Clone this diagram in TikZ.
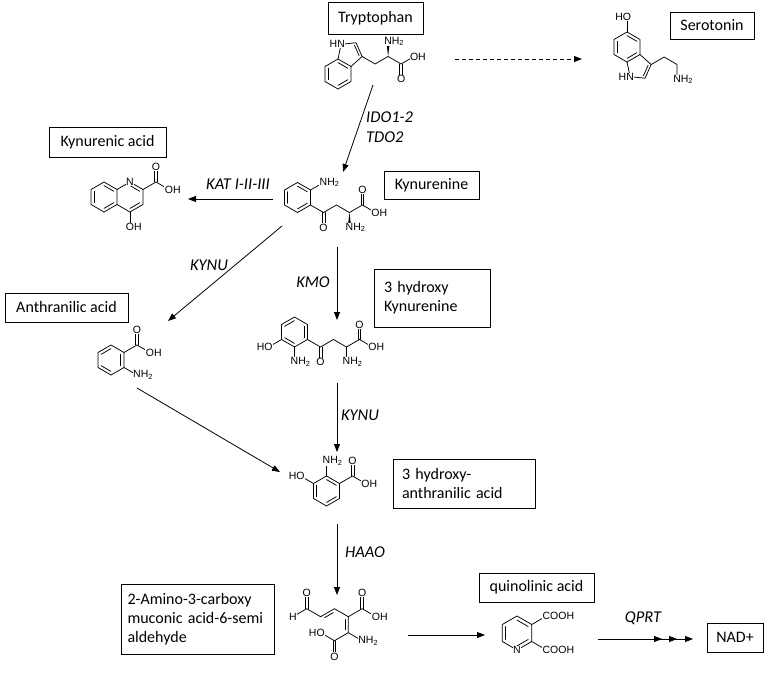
\documentclass[tikz,border=0pt]{standalone}
\usepackage{fontspec}
\setmainfont{Carlito}
\newfontfamily\atomfont{Liberation Sans}
\usetikzlibrary{arrows.meta,calc,decorations.markings}

% inner line of a ring double bond
\newcommand{\ringdbl}[3]{\draw[bond] ($(#1)!.76!(#2)$) -- ($(#1)!.76!(#3)$);}
% C=O double bond, two lines side by side
\newcommand{\sidedbl}[2]{%
  \draw[bond] ($(#1)!1.4pt!90:(#2)$) -- ($(#2)!1.4pt!-90:(#1)$);
  \draw[bond] ($(#1)!1.4pt!-90:(#2)$) -- ($(#2)!1.4pt!90:(#1)$);}
% chain double bond, second line on one side
\newcommand{\offdbl}[3]{\draw[bond] ($(#1)!.18!(#2)!2.8pt!#3:(#2)$) -- ($(#1)!.82!(#2)!2.8pt!#3:(#2)$);}

\tikzset{
  bond/.style={line width=0.75pt, line cap=round, line join=round},
  atom/.style={fill=white, inner sep=0.5pt, font=\atomfont\fontsize{10.5}{10.5}\selectfont},
  namebox/.style={draw, line width=0.7pt, font=\fontsize{16}{19}\selectfont, inner sep=0pt},
  enzyme/.style={font=\itshape\fontsize{16.5}{20}\selectfont, inner sep=0pt},
  flow/.style={line width=0.8pt, -{Triangle[length=8pt,width=6pt]}}
}

\begin{document}
\begin{tikzpicture}[x=1pt, y=-1pt]
\useasboundingbox (0,0) rectangle (768,674);

% --- Name boxes ---
\node[namebox, minimum width=95pt, minimum height=32pt] (trpbox) at (375.5,18) {Tryptophan};
\node[namebox, minimum width=84pt, minimum height=27pt] (serobox) at (712,25.5) {Serotonin};
\node[namebox, minimum width=117pt, minimum height=30pt] (kynabox) at (107.5,142) {Kynurenic acid};
\node[namebox, minimum width=95pt, minimum height=28pt] (kynbox) at (431.5,185) {Kynurenine};
\node[namebox, minimum width=123pt, minimum height=29pt] (anthbox) at (66.5,307.5) {Anthranilic acid};
\node[namebox, text width=96pt, inner xsep=10pt, minimum height=58pt, align=left] (hkbox) at (432,298) {3 hydroxy\\Kynurenine};
\node[namebox, text width=124pt, inner xsep=9pt, minimum height=49pt, align=left] (haabox) at (464,483.5) {3 hydroxy-\\anthranilic acid};
\node[namebox, text width=140pt, inner xsep=6.5pt, minimum height=70pt, align=left] (acmsbox) at (197.5,619) {2-Amino-3-carboxy\\muconic acid-6-semi\\aldehyde};
\node[namebox, minimum width=115pt, minimum height=29pt] (quinbox) at (536.5,587.5) {quinolinic acid};
\node[namebox, minimum width=56pt, minimum height=29pt] (nadbox) at (735,637.5) {NAD+};

% --- Tryptophan ---
\begin{scope}[shift={(338,74)}, x=15pt, y=15pt]
  \foreach \i/\ang in {1/90,2/30,3/-30,4/-90,5/-150,6/150}
    \coordinate (w\i) at (\ang:1);
  \coordinate (wc) at (0,0);
  \coordinate (wp) at (0.777,1.346);
  \coordinate (w7) at (1.609,1.169);
  \coordinate (w8) at (1.202,2.083);
  \coordinate (w9) at (0.207,1.978);
  \coordinate (w10) at (2.475,0.669);
  \coordinate (w11) at (3.341,1.169);
  \coordinate (w12) at (4.207,0.669);
  \coordinate (w13) at (3.341,2.169);
  \coordinate (w14) at (4.207,-0.331);
  \coordinate (w15) at (5.073,1.169);
  \draw[bond] (w1) -- (w2) -- (w3) -- (w4) -- (w5) -- (w6) -- cycle;
  \draw[bond] (w2) -- (w7) -- (w8) -- (w9) -- (w1);
  \draw[bond] (w7) -- (w10) -- (w11) -- (w12) -- (w15);
  \ringdbl{wc}{w1}{w2} \ringdbl{wc}{w3}{w4} \ringdbl{wc}{w5}{w6} \ringdbl{wp}{w7}{w8}
  \sidedbl{w12}{w14}
  \fill (w11) -- ($(w13)+(-0.12,0)$) -- ($(w13)+(0.12,0)$) -- cycle;
  \node[atom] (trpN) at (w9) {\llap{H}N};
  \node[atom] (trpNH) at (w13) {N\rlap{H\textsubscript{2}}};
  \node[atom] (trpO) at (w14) {O};
  \node[atom] (trpOH) at (w15) {O\rlap{H}};
\end{scope}

% --- Serotonin ---
\begin{scope}[shift={(627,47)}, x=15pt, y=15pt]
  \foreach \i/\ang in {1/90,2/30,3/-30,4/-90,5/-150,6/150}
    \coordinate (s\i) at (\ang:1);
  \coordinate (sc) at (0,0);
  \coordinate (sp) at (0.777,-1.346);
  \coordinate (s7) at (1.609,-1.169);
  \coordinate (s8) at (1.202,-2.083);
  \coordinate (s9) at (0.207,-1.978);
  \coordinate (s10) at (0,2);
  \coordinate (s11) at (2.475,-0.669);
  \coordinate (s12) at (3.341,-1.169);
  \coordinate (s13) at (3.341,-2.169);
  \draw[bond] (s1) -- (s2) -- (s3) -- (s4) -- (s5) -- (s6) -- cycle;
  \draw[bond] (s3) -- (s7) -- (s8) -- (s9) -- (s4);
  \draw[bond] (s1) -- (s10);
  \draw[bond] (s7) -- (s11) -- (s12) -- (s13);
  \ringdbl{sc}{s3}{s4} \ringdbl{sc}{s1}{s2} \ringdbl{sc}{s5}{s6} \ringdbl{sp}{s7}{s8}
  \node[atom] (seroN) at (s9) {\llap{H}N};
  \node[atom] (seroOH) at (s10) {\llap{H}O};
  \node[atom] (seroNH) at (s13) {N\rlap{H\textsubscript{2}}};
\end{scope}

% --- Kynurenic acid ---
\begin{scope}[shift={(104,197)}, x=15pt, y=15pt]
  \foreach \i/\ang in {1/90,2/30,3/-30,4/-90,5/-150,6/150}
    \coordinate (k\i) at (\ang:1);
  \coordinate (ka) at (0,0);
  \coordinate (kb) at (1.732,0);
  \coordinate (k7) at (1.732,1);
  \coordinate (k8) at (2.598,0.5);
  \coordinate (k9) at (2.598,-0.5);
  \coordinate (k10) at (1.732,-1);
  \coordinate (k11) at (3.464,1);
  \coordinate (k12) at (3.464,2);
  \coordinate (k13) at (4.330,0.5);
  \coordinate (k14) at (1.732,-2);
  \draw[bond] (k1) -- (k2) -- (k3) -- (k4) -- (k5) -- (k6) -- cycle;
  \draw[bond] (k2) -- (k7) -- (k8) -- (k9) -- (k10) -- (k3);
  \draw[bond] (k8) -- (k11) -- (k13);
  \draw[bond] (k10) -- (k14);
  \sidedbl{k11}{k12}
  \ringdbl{ka}{k1}{k2} \ringdbl{ka}{k3}{k4} \ringdbl{ka}{k5}{k6}
  \ringdbl{kb}{k7}{k8} \ringdbl{kb}{k9}{k10}
  \node[atom] (kynaN) at (k7) {N};
  \node[atom] (kynaO) at (k12) {O};
  \node[atom] (kynaOH) at (k13) {O\rlap{H}};
  \node[atom] (kynaOH2) at (k14) {O\rlap{H}};
\end{scope}

% --- Kynurenine ---
\begin{scope}[shift={(297.5,197.5)}, x=15pt, y=15pt]
  \foreach \i/\ang in {1/90,2/30,3/-30,4/-90,5/-150,6/150}
    \coordinate (n\i) at (\ang:1);
  \coordinate (nc) at (0,0);
  \coordinate (n7) at (1.732,1);
  \coordinate (n8) at (1.732,-1);
  \coordinate (n9) at (1.732,-2);
  \coordinate (n10) at (2.598,-0.5);
  \coordinate (n11) at (3.464,-1);
  \coordinate (n12) at (3.464,-2);
  \coordinate (n13) at (4.330,-0.5);
  \coordinate (n14) at (4.330,0.5);
  \coordinate (n15) at (5.196,-1);
  \draw[bond] (n1) -- (n2) -- (n3) -- (n4) -- (n5) -- (n6) -- cycle;
  \draw[bond] (n2) -- (n7);
  \draw[bond] (n3) -- (n8) -- (n10) -- (n11) -- (n13) -- (n15);
  \sidedbl{n8}{n9} \sidedbl{n13}{n14}
  \fill (n11) -- ($(n12)+(-0.12,0)$) -- ($(n12)+(0.12,0)$) -- cycle;
  \ringdbl{nc}{n1}{n2} \ringdbl{nc}{n3}{n4} \ringdbl{nc}{n5}{n6}
  \node[atom] (kynNH) at (n7) {N\rlap{H\textsubscript{2}}};
  \node[atom] (kynO) at (n9) {O};
  \node[atom] (kynNH2) at (n12) {N\rlap{H\textsubscript{2}}};
  \node[atom] (kynO2) at (n14) {O};
  \node[atom] (kynOH) at (n15) {O\rlap{H}};
\end{scope}

% --- Anthranilic acid ---
\begin{scope}[shift={(111,360)}, x=15pt, y=15pt]
  \foreach \i/\ang in {1/90,2/30,3/-30,4/-90,5/-150,6/150}
    \coordinate (r\i) at (\ang:1);
  \coordinate (rc) at (0,0);
  \coordinate (r7) at (1.732,1);
  \coordinate (r8) at (1.732,2);
  \coordinate (r9) at (2.598,0.5);
  \coordinate (r10) at (1.732,-1);
  \draw[bond] (r1) -- (r2) -- (r3) -- (r4) -- (r5) -- (r6) -- cycle;
  \draw[bond] (r2) -- (r7) -- (r9);
  \draw[bond] (r3) -- (r10);
  \sidedbl{r7}{r8}
  \ringdbl{rc}{r6}{r1} \ringdbl{rc}{r2}{r3} \ringdbl{rc}{r4}{r5}
  \node[atom] (anthO) at (r8) {O};
  \node[atom] (anthOH) at (r9) {O\rlap{H}};
  \node[atom] (anthNH) at (r10) {N\rlap{H\textsubscript{2}}};
\end{scope}

% --- 3 hydroxy Kynurenine ---
\begin{scope}[shift={(294.5,332)}, x=15pt, y=15pt]
  \foreach \i/\ang in {1/90,2/30,3/-30,4/-90,5/-150,6/150}
    \coordinate (h\i) at (\ang:1);
  \coordinate (hc) at (0,0);
  \coordinate (h7) at (-1.732,-1);
  \coordinate (h8) at (0,-2);
  \coordinate (h9) at (1.732,-1);
  \coordinate (h10) at (1.732,-2);
  \coordinate (h11) at (2.598,-0.5);
  \coordinate (h12) at (3.464,-1);
  \coordinate (h13) at (3.464,-2);
  \coordinate (h14) at (4.330,-0.5);
  \coordinate (h15) at (4.330,0.5);
  \coordinate (h16) at (5.196,-1);
  \draw[bond] (h1) -- (h2) -- (h3) -- (h4) -- (h5) -- (h6) -- cycle;
  \draw[bond] (h5) -- (h7);
  \draw[bond] (h4) -- (h8);
  \draw[bond] (h3) -- (h9) -- (h11) -- (h12) -- (h14) -- (h16);
  \draw[bond] (h12) -- (h13);
  \sidedbl{h9}{h10} \sidedbl{h14}{h15}
  \ringdbl{hc}{h6}{h1} \ringdbl{hc}{h2}{h3} \ringdbl{hc}{h4}{h5}
  \node[atom] (hkOH) at (h7) {\llap{H}O};
  \node[atom] (hkNH) at (h8) {N\rlap{H\textsubscript{2}}};
  \node[atom] (hkO) at (h10) {O};
  \node[atom] (hkNH2) at (h13) {N\rlap{H\textsubscript{2}}};
  \node[atom] (hkO2) at (h15) {O};
  \node[atom] (hkOH2) at (h16) {O\rlap{H}};
\end{scope}

% --- 3 hydroxy-anthranilic acid ---
\begin{scope}[shift={(326.5,491)}, x=15pt, y=15pt]
  \foreach \i/\ang in {1/90,2/30,3/-30,4/-90,5/-150,6/150}
    \coordinate (q\i) at (\ang:1);
  \coordinate (qc) at (0,0);
  \coordinate (q7) at (0,2);
  \coordinate (q8) at (-1.732,1);
  \coordinate (q9) at (1.732,1);
  \coordinate (q10) at (1.732,2);
  \coordinate (q11) at (2.598,0.5);
  \draw[bond] (q1) -- (q2) -- (q3) -- (q4) -- (q5) -- (q6) -- cycle;
  \draw[bond] (q1) -- (q7);
  \draw[bond] (q6) -- (q8);
  \draw[bond] (q2) -- (q9) -- (q11);
  \sidedbl{q9}{q10}
  \ringdbl{qc}{q1}{q2} \ringdbl{qc}{q3}{q4} \ringdbl{qc}{q5}{q6}
  \node[atom] (haaNH) at (q7) {N\rlap{H\textsubscript{2}}};
  \node[atom] (haaOH) at (q8) {\llap{H}O};
  \node[atom] (haaO) at (q10) {O};
  \node[atom] (haaOH2) at (q11) {O\rlap{H}};
\end{scope}

% --- 2-Amino-3-carboxymuconic acid-6-semialdehyde ---
\begin{scope}[shift={(348.3,616.7)}, x=16pt, y=16pt]
  \coordinate (m0) at (0,0);
  \coordinate (m1) at (0,-1);
  \coordinate (m2) at (0.866,0.5);
  \coordinate (m3) at (0.866,1.5);
  \coordinate (m4) at (1.732,0);
  \coordinate (m5) at (0.866,-1.5);
  \coordinate (m6) at (-0.866,-1.5);
  \coordinate (m7) at (-1.732,-1);
  \coordinate (m8) at (-0.866,-2.5);
  \coordinate (m9) at (-0.866,0.5);
  \coordinate (m10) at (-1.732,0);
  \coordinate (m11) at (-2.598,0.5);
  \coordinate (m12) at (-2.598,1.5);
  \coordinate (m13) at (-3.464,0);
  \draw[bond] (m13) -- (m11) -- (m10) -- (m9) -- (m0) -- (m2) -- (m4);
  \draw[bond] (m0) -- (m1) -- (m5);
  \draw[bond] (m1) -- (m6) -- (m7);
  \sidedbl{m11}{m12} \sidedbl{m2}{m3} \sidedbl{m6}{m8}
  \offdbl{m10}{m9}{-90} \offdbl{m0}{m1}{-90}
  \node[atom] (acmsO) at (m3) {O};
  \node[atom] (acmsOH) at (m4) {O\rlap{H}};
  \node[atom] (acmsNH) at (m5) {N\rlap{H\textsubscript{2}}};
  \node[atom] (acmsOH2) at (m7) {\llap{H}O};
  \node[atom] (acmsO2) at (m8) {O};
  \node[atom] (acmsO3) at (m12) {O};
  \node[atom] (acmsH) at (m13) {H};
\end{scope}

% --- Quinolinic acid ---
\begin{scope}[shift={(517,633)}, x=17pt, y=17pt]
  \foreach \i/\ang in {1/90,2/30,3/-30,4/-90,5/-150,6/150}
    \coordinate (u\i) at (\ang:1);
  \coordinate (uc) at (0,0);
  \coordinate (u7) at (1.732,1);
  \coordinate (u8) at (1.732,-1);
  \draw[bond] (u1) -- (u2) -- (u3) -- (u4) -- (u5) -- (u6) -- cycle;
  \draw[bond] (u2) -- (u7);
  \draw[bond] (u3) -- (u8);
  \ringdbl{uc}{u1}{u2} \ringdbl{uc}{u3}{u4} \ringdbl{uc}{u5}{u6}
  \node[atom] (quinN) at (u4) {N};
  \node[atom] (quinC) at (u7) {C\rlap{OOH}};
  \node[atom] (quinC2) at (u8) {C\rlap{OOH}};
\end{scope}

% --- Arrow ends ---
\coordinate (trp-e) at (455,59);
\coordinate (sero-w) at (582,59);
\coordinate (trp-s) at (373,85);
\coordinate (kyn-n) at (343,172);
\coordinate (kyn-w) at (273,199);
\coordinate (kyna-e) at (188,199);
\coordinate (kyn-sw) at (282,226);
\coordinate (anth-ne) at (168,321);
\coordinate (kyn-s) at (337,247);
\coordinate (hk-n) at (337,320);
\coordinate (hk-s) at (337,383);
\coordinate (haa-n) at (337,452);
\coordinate (anth-se) at (137,388);
\coordinate (haa-w) at (280,472);
\coordinate (haa-s) at (337,524);
\coordinate (acms-n) at (337,595);
\coordinate (acms-e) at (408,635);
\coordinate (quin-w) at (485,635);
\coordinate (quin-e) at (598,639);
\coordinate (nad-w) at (693,639);

% --- Arrows ---
\draw[flow, dash pattern=on 4pt off 3pt] (trp-e) -- (sero-w);
\draw[flow] (trp-s) -- (kyn-n);
\draw[flow] (kyn-w) -- (kyna-e);
\draw[flow] (kyn-sw) -- (anth-ne);
\draw[flow] (kyn-s) -- (hk-n);
\draw[flow] (hk-s) -- (haa-n);
\draw[flow] (anth-se) -- (haa-w);
\draw[flow] (haa-s) -- (acms-n);
\draw[flow] (acms-e) -- (quin-w);
\draw[flow, postaction={decorate}, decoration={markings,
    mark=at position 0.674 with {\arrow{Triangle[length=8pt,width=6pt]}},
    mark=at position 0.832 with {\arrow{Triangle[length=8pt,width=6pt]}}}]
  (quin-e) -- (nad-w);

% --- Enzyme labels ---
\node[enzyme, anchor=west, align=left] (ido) at (366,127) {IDO1-2\\TDO2};
\node[enzyme] (kat) at (238,184) {KAT I-II-III};
\node[enzyme] (kynu1) at (209,265) {KYNU};
\node[enzyme] (kmo) at (313,282) {KMO};
\node[enzyme] (kynu2) at (360,415) {KYNU};
\node[enzyme] (haao) at (365,552) {HAAO};
\node[enzyme] (qprt) at (643,618) {QPRT};

\end{tikzpicture}
\end{document}
